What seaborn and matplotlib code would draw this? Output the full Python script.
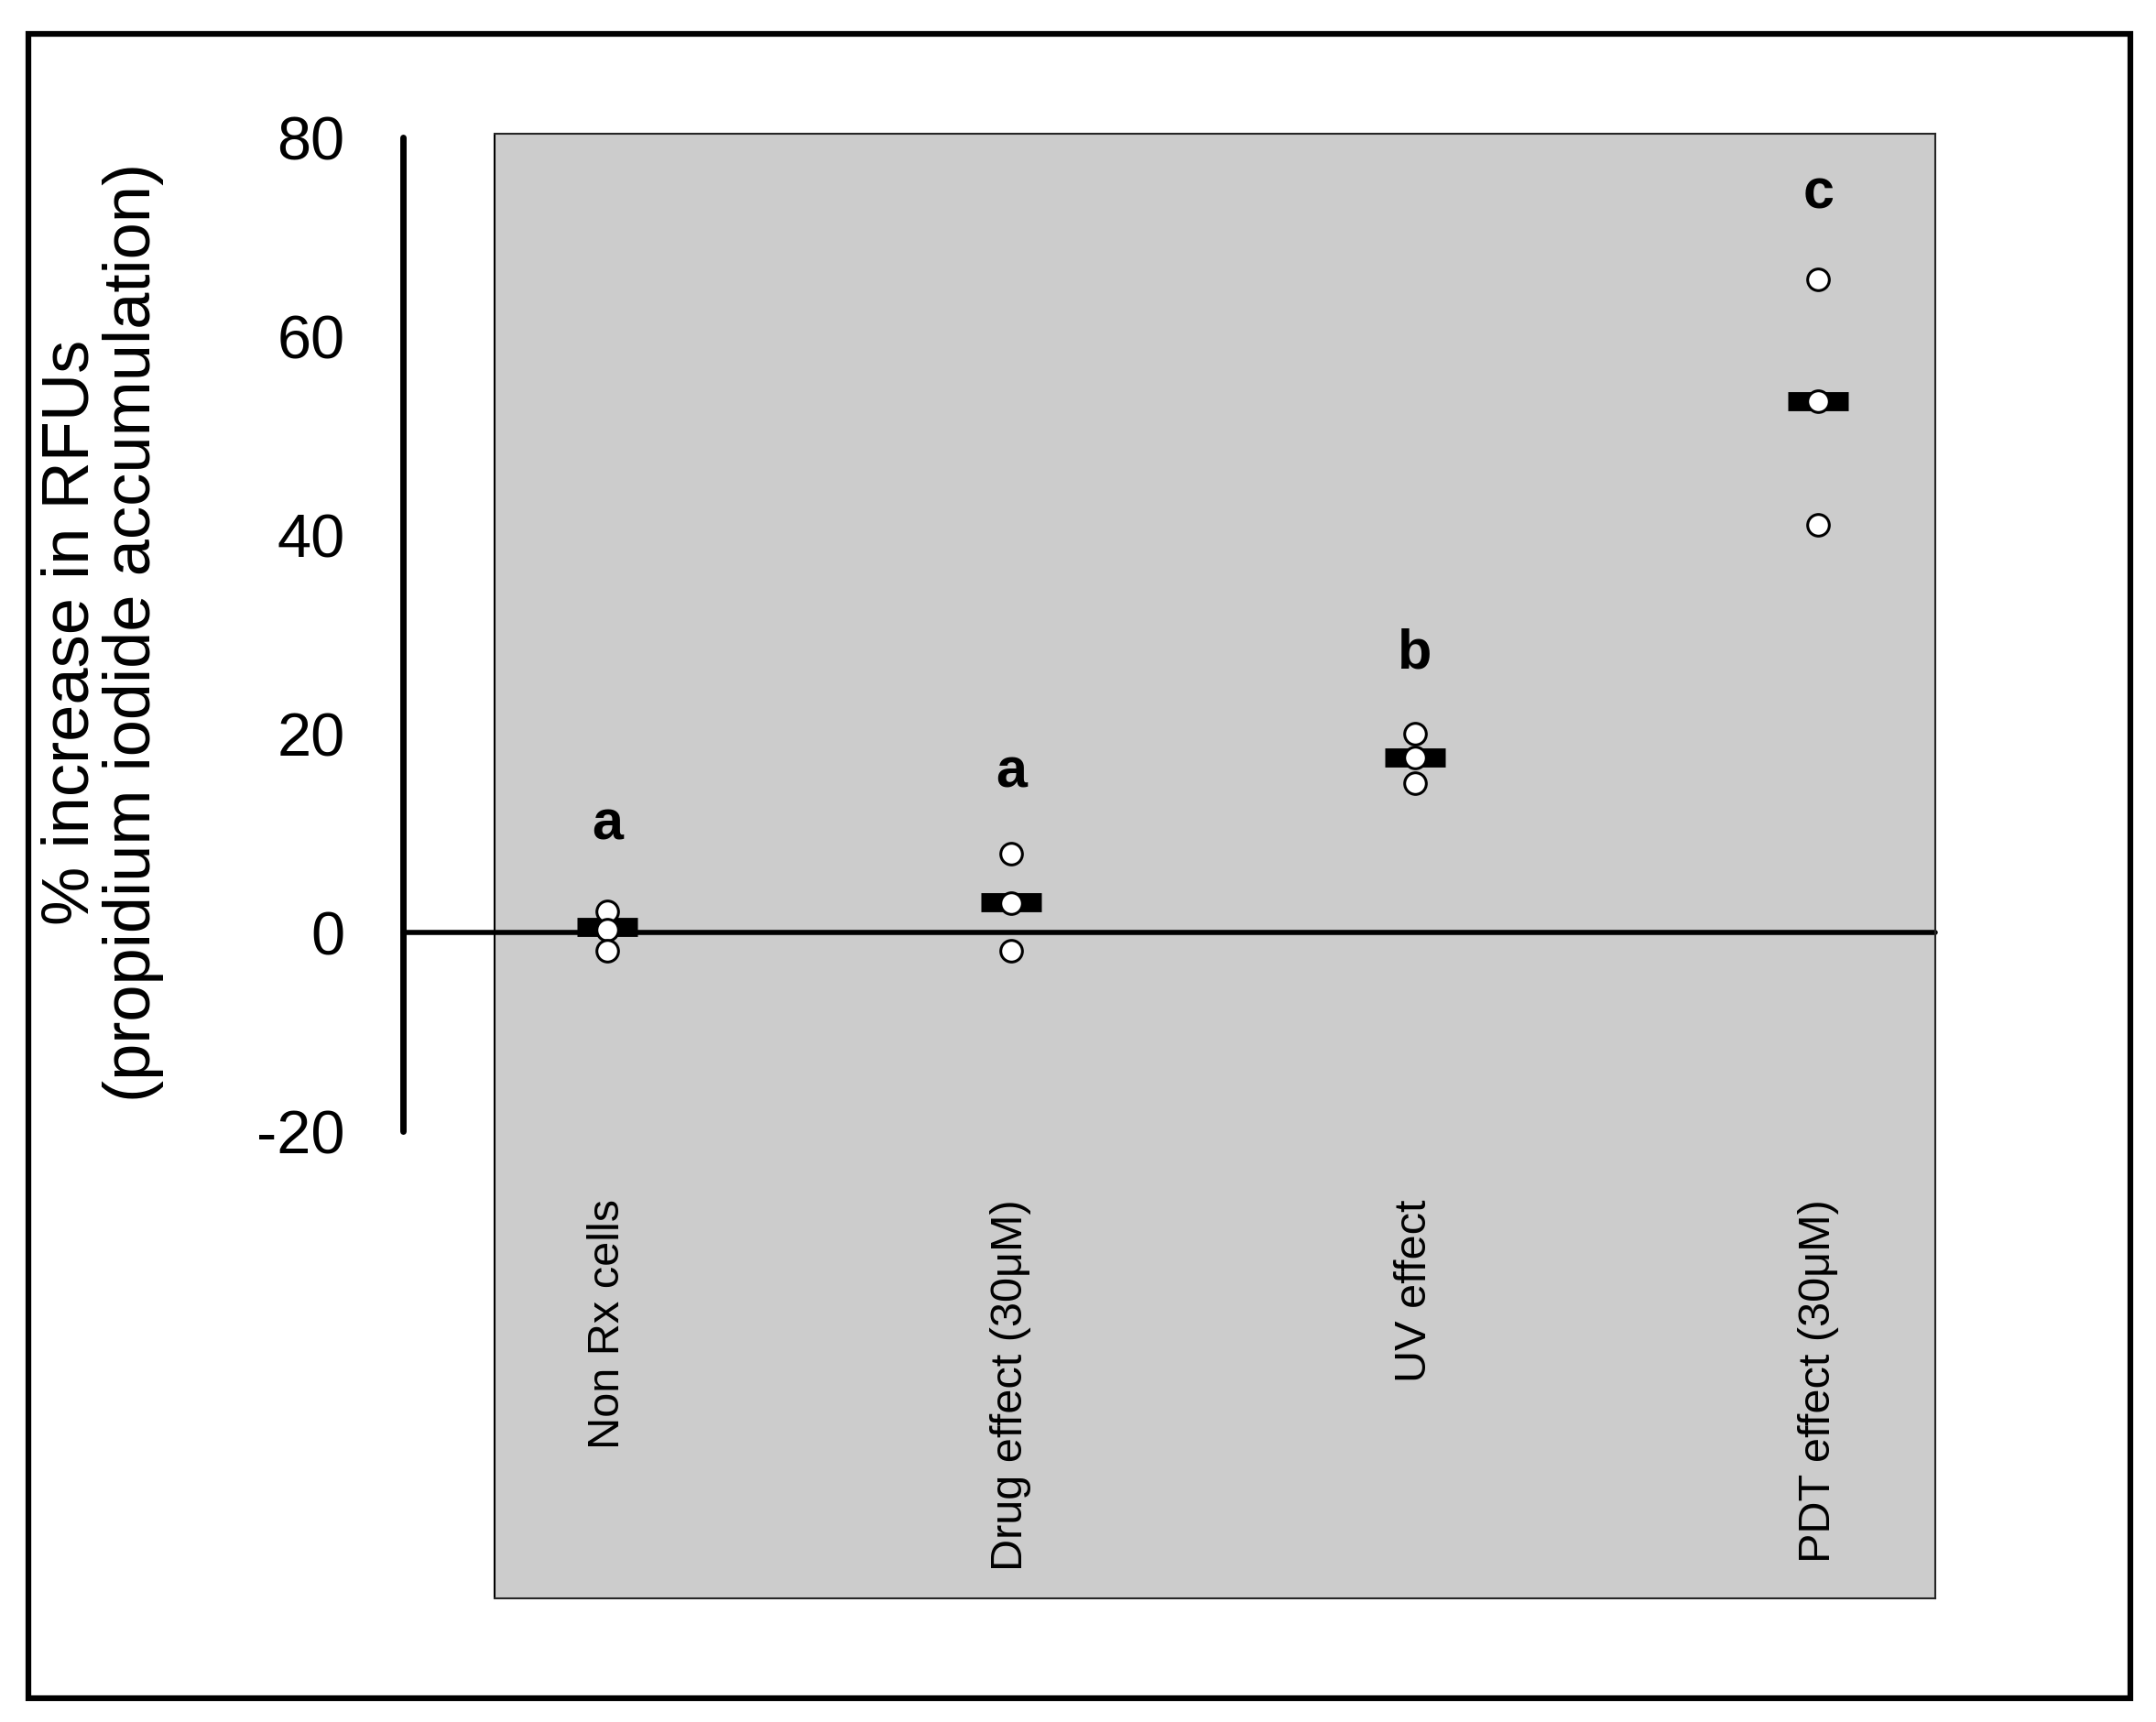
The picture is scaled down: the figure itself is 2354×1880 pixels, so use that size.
import numpy as np
import pandas as pd
import matplotlib
matplotlib.use('Agg')
import matplotlib.pyplot as plt
from matplotlib.patches import Rectangle
import seaborn as sns

# data
groups = ['Non Rx cells', 'Drug effect (30μM)', 'UV effect', 'PDT effect (30μM)']
reps = [[2.1, 0.2, -1.9], [7.9, 2.9, -1.9], [20.0, 17.6, 15.0], [65.7, 53.4, 41.0]]
means = [0.5, 3.0, 17.6, 53.4]
letters = ['a', 'a', 'b', 'c']
letter_y = [8.2, 13.5, 25.5, 71.7]
yticks = [-20, 0, 20, 40, 60, 80]

rows = [(g, v) for g, vals in zip(groups, reps) for v in vals]
df = pd.DataFrame(rows, columns=['group', 'value'])

sns.set_style('white')
plt.rcParams['font.family'] = ['Liberation Sans', 'DejaVu Sans']
plt.rcParams['text.color'] = 'black'
plt.rcParams['ytick.color'] = 'black'
plt.rcParams['axes.labelcolor'] = 'black'

fig = plt.figure(figsize=(23.54, 18.81), dpi=100)
fig.patches.append(Rectangle((0.013, 0.014), 0.975, 0.966, transform=fig.transFigure,
                             fill=False, lw=4.5, ec='black'))
ax = fig.add_axes([0.2296, 0.072, 0.668, 0.8496])
ax.set_facecolor('#cccccc')

ax.axhline(0, xmin=-67 / 1048, xmax=1, color='black', lw=4, clip_on=False, zorder=2)
for i, m in enumerate(means):
    ax.hlines(m, i - 0.075, i + 0.075, color='black', lw=15, zorder=3)
sns.stripplot(data=df, x='group', y='value', jitter=False, ax=ax, size=17,
              color='white', edgecolor='black', linewidth=2.2, zorder=4)

for i, (l, y) in enumerate(zip(letters, letter_y)):
    ax.text(i, y, l, ha='center', va='bottom', fontsize=44, fontweight='bold')
for i, g in enumerate(groups):
    ax.text(i, -26.8, g, rotation=90, ha='center', va='top', fontsize=35)

ax.set_xlim(-0.279, 3.29)
ax.set_ylim(-67, 80.3)
ax.set_xticks([])
ax.set_xlabel('')
ax.set_yticks(yticks)
ax.set_yticklabels([str(t) for t in yticks])
ax.tick_params(axis='y', length=0, labelsize=48, pad=118)
for s in ['top', 'right', 'bottom']:
    ax.spines[s].set_linewidth(1.5)
ax.spines['left'].set_visible(False)
ax.plot([-0.279 - 67 / 293.7] * 2, [-20, 80], color='black', lw=5, clip_on=False)
ax.plot([-0.279, -0.279], [-67, 80.3], color='black', lw=1.5, clip_on=False)
ax.set_ylabel('% increase in RFUs\n(propidium iodide accumulation)', fontsize=52,
              linespacing=1.0)
ax.yaxis.set_label_coords(-0.23, 0.66)

fig.savefig('out.png', dpi=100)
